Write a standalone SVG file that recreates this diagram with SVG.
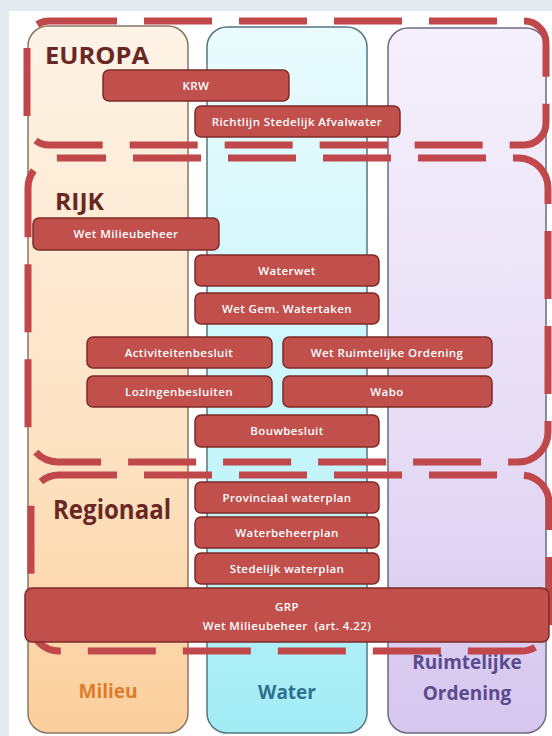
<svg xmlns="http://www.w3.org/2000/svg" width="552" height="736" viewBox="0 0 552 736">
<defs>
<linearGradient id="gM" x1="0" y1="0" x2="0" y2="1"><stop offset="0" stop-color="#fdf3e6"/><stop offset="0.6" stop-color="#fde2c2"/><stop offset="1" stop-color="#fbcf9c"/></linearGradient>
<linearGradient id="gW" x1="0" y1="0" x2="0" y2="1"><stop offset="0" stop-color="#e9fbfd"/><stop offset="0.6" stop-color="#c6f5fa"/><stop offset="1" stop-color="#a2ecf6"/></linearGradient>
<linearGradient id="gR" x1="0" y1="0" x2="0" y2="1"><stop offset="0" stop-color="#f5f0fb"/><stop offset="0.6" stop-color="#e6dcf5"/><stop offset="1" stop-color="#d5c6ee"/></linearGradient>
<style>
.bar{fill:#c14f4b;stroke:#7d2b29;stroke-width:1.5}
.bt{fill:#ffffff;font-family:"Open Sans","DejaVu Sans",sans-serif;font-weight:600;font-size:11.5px;text-anchor:middle;letter-spacing:0.4px;white-space:pre}
.dash{fill:none;stroke:#c0474a;stroke-width:7;stroke-dasharray:68 27}
.hd{fill:#6a2825;font-family:"Open Sans","DejaVu Sans",sans-serif;font-weight:700}
.ct{font-family:"Open Sans","DejaVu Sans",sans-serif;font-weight:700;font-size:19px;text-anchor:middle}
</style>
</defs>
<rect x="0" y="0" width="552" height="736" fill="#e4ebef"/>
<rect x="9" y="11" width="543" height="725" fill="#ffffff"/>

<g id="col-milieu">
<rect x="28" y="26" width="160" height="707" rx="20" fill="url(#gM)" stroke="#8a7665" stroke-width="1.5"/>
<text class="ct" x="108" y="698" fill="#e07b2c">Milieu</text>
</g>
<g id="col-water">
<rect x="207" y="27" width="160" height="706" rx="20" fill="url(#gW)" stroke="#56777e" stroke-width="1.5"/>
<text class="ct" x="287" y="699" fill="#2e7190">Water</text>
</g>
<g id="col-ro">
<rect x="388" y="28" width="158" height="705" rx="20" fill="url(#gR)" stroke="#6c6b84" stroke-width="1.5"/>
<text class="ct" x="467" y="669" fill="#5a4a8e">Ruimtelijke</text>
<text class="ct" x="467" y="700" fill="#5a4a8e">Ordening</text>
</g>

<g id="groups">
<rect class="dash" x="27" y="21" width="519" height="124" rx="22"/>
<rect class="dash" x="28" y="158" width="520" height="304" rx="30" stroke-dashoffset="20"/>
<rect class="dash" x="31" y="475" width="518" height="176" rx="28" stroke-dashoffset="10"/>
<text class="hd" x="45" y="64" font-size="24" textLength="104" lengthAdjust="spacingAndGlyphs">EUROPA</text>
<text class="hd" x="55" y="210" font-size="24" textLength="49" lengthAdjust="spacingAndGlyphs">RIJK</text>
<text class="hd" x="53" y="519" font-size="26" textLength="118" lengthAdjust="spacingAndGlyphs">Regionaal</text>
</g>

<g id="krw"><rect class="bar" x="103" y="70" width="186" height="31" rx="6"/><text class="bt" x="196" y="90">KRW</text></g>
<g id="rsa"><rect class="bar" x="195" y="106" width="205" height="31" rx="6"/><text class="bt" x="297" y="126">Richtlijn Stedelijk Afvalwater</text></g>
<g id="wm"><rect class="bar" x="33" y="218" width="186" height="32" rx="6"/><text class="bt" x="126" y="238">Wet Milieubeheer</text></g>
<g id="ww"><rect class="bar" x="195" y="255" width="184" height="31" rx="6"/><text class="bt" x="287" y="275">Waterwet</text></g>
<g id="wgw"><rect class="bar" x="195" y="293" width="184" height="31" rx="6"/><text class="bt" x="287" y="313">Wet Gem. Watertaken</text></g>
<g id="ab"><rect class="bar" x="87" y="337" width="185" height="31" rx="6"/><text class="bt" x="179" y="357">Activiteitenbesluit</text></g>
<g id="wro"><rect class="bar" x="283" y="337" width="209" height="31" rx="6"/><text class="bt" x="387" y="357">Wet Ruimtelijke Ordening</text></g>
<g id="lb"><rect class="bar" x="87" y="376" width="185" height="31" rx="6"/><text class="bt" x="179" y="396">Lozingenbesluiten</text></g>
<g id="wabo"><rect class="bar" x="283" y="376" width="209" height="31" rx="6"/><text class="bt" x="387" y="396">Wabo</text></g>
<g id="bb"><rect class="bar" x="195" y="415" width="184" height="32" rx="6"/><text class="bt" x="287" y="435">Bouwbesluit</text></g>
<g id="pw"><rect class="bar" x="195" y="482" width="184" height="31" rx="6"/><text class="bt" x="287" y="502">Provinciaal waterplan</text></g>
<g id="wbp"><rect class="bar" x="195" y="517" width="184" height="31" rx="6"/><text class="bt" x="287" y="537">Waterbeheerplan</text></g>
<g id="sw"><rect class="bar" x="195" y="553" width="184" height="31" rx="6"/><text class="bt" x="287" y="573">Stedelijk waterplan</text></g>
<g id="grp"><rect class="bar" x="25" y="588" width="524" height="54" rx="7"/><text class="bt" x="287" y="611">GRP</text><text class="bt" x="287" y="630">Wet Milieubeheer  (art. 4.22)</text></g>
</svg>
